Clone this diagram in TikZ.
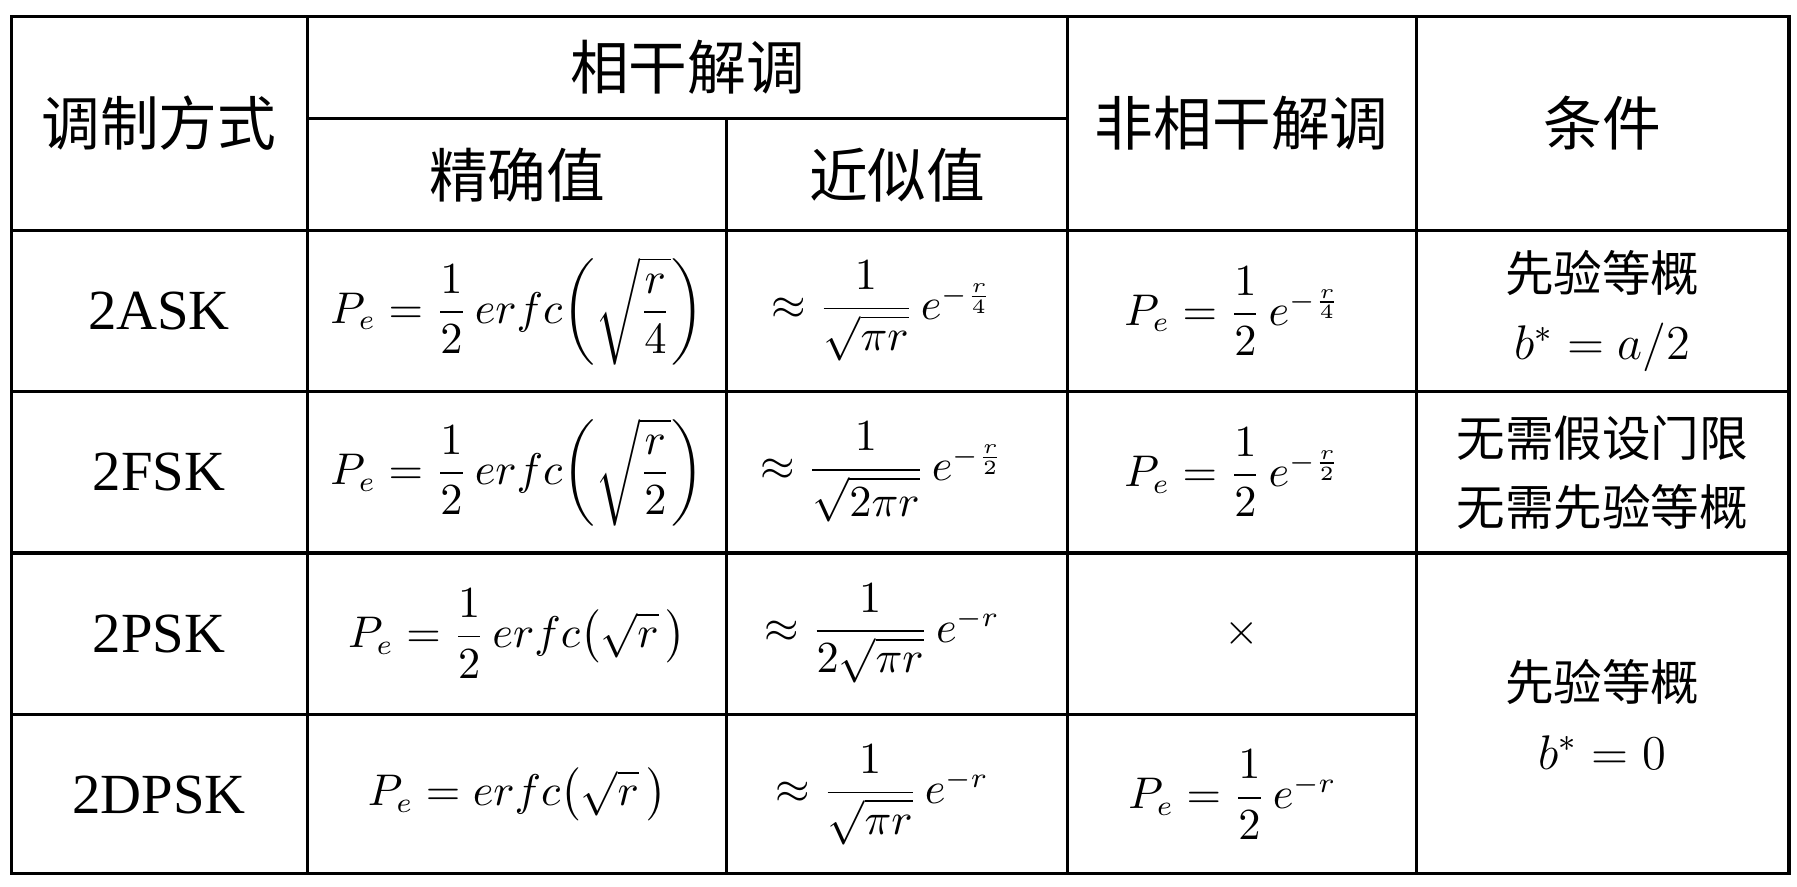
\documentclass[tikz,border=0pt]{standalone}
\usepackage{fontspec}
\setmainfont{Liberation Serif}
\newfontfamily\cjk{Noto Sans CJK SC}
\usepackage{amsmath}
\begin{document}
\begin{tikzpicture}[x=0.01cm, y=-0.01cm, thick,
    head/.style={font=\fontsize{14.5}{18}\selectfont\cjk},
    cell/.style={font=\fontsize{14}{18}\selectfont},
    formula/.style={font=\fontsize{10.5}{13}\selectfont},
    note/.style={font=\fontsize{12}{17}\selectfont, align=center}]
\useasboundingbox (0,0) rectangle (1560,770);
% grid
\draw (10,14) rectangle (1553,758);
\foreach \x in {267,927,1230} \draw (\x,14) -- (\x,758);
\draw (631,103) -- (631,758);
\draw (267,103) -- (927,103);
\foreach \y in {200,340,480} \draw (10,\y) -- (1553,\y);
\draw (10,620) -- (1230,620);
% header
\node[head] (mod) at (138,107) {调制方式};
\node[head] (coh) at (597,58) {相干解调};
\node[head] (exact) at (449,152) {精确值};
\node[head] (approx) at (779,152) {近似值};
\node[head] (ncoh) at (1078,107) {非相干解调};
\node[head] (cond) at (1391,107) {条件};
% row labels
\node[cell] (ask) at (138,270) {2ASK};
\node[cell] (fsk) at (138,410) {2FSK};
\node[cell] (psk) at (138,550) {2PSK};
\node[cell] (dpsk) at (138,690) {2DPSK};
% exact
\node[formula] (ex1) at (449,270) {$P_e=\dfrac12\,erfc\!\left(\sqrt{\dfrac r4}\right)$};
\node[formula] (ex2) at (449,410) {$P_e=\dfrac12\,erfc\!\left(\sqrt{\dfrac r2}\right)$};
\node[formula] (ex3) at (449,550) {$P_e=\dfrac12\,erfc\big(\sqrt r\,\big)$};
\node[formula] (ex4) at (449,690) {$P_e=erfc\big(\sqrt r\,\big)$};
% approx
\node[formula] (ap1) at (766,270) {$\approx\dfrac{1}{\sqrt{\pi r}}\,e^{-\frac r4}$};
\node[formula] (ap2) at (766,410) {$\approx\dfrac{1}{\sqrt{2\pi r}}\,e^{-\frac r2}$};
\node[formula] (ap3) at (766,550) {$\approx\dfrac{1}{2\sqrt{\pi r}}\,e^{-r}$};
\node[formula] (ap4) at (766,690) {$\approx\dfrac{1}{\sqrt{\pi r}}\,e^{-r}$};
% noncoherent
\node[formula] (nc1) at (1070,270) {$P_e=\dfrac12\,e^{-\frac r4}$};
\node[formula] (nc2) at (1070,410) {$P_e=\dfrac12\,e^{-\frac r2}$};
\node[formula] (nc3) at (1078,550) {$\times$};
\node[formula] (nc4) at (1070,690) {$P_e=\dfrac12\,e^{-r}$};
% conditions
\node[note] (c1) at (1391,270) {{\cjk 先验等概}\\$b^*=a/2$};
\node[note] (c2) at (1391,410) {\cjk 无需假设门限\\\cjk 无需先验等概};
\node[note] (c3) at (1391,620) {{\cjk 先验等概}\\$b^*=0$};
\end{tikzpicture}
\end{document}
